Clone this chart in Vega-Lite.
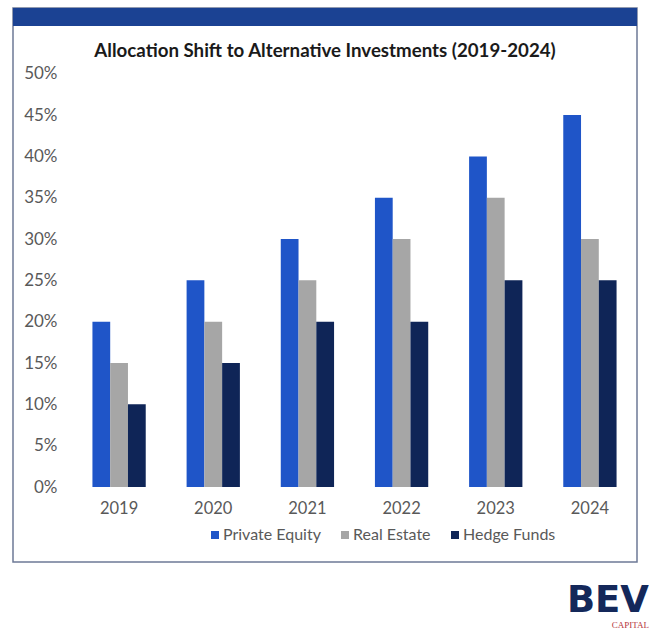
{
  "$schema": "https://vega.github.io/schema/vega-lite/v6.json",
  "background": "white",
  "padding": {"left": 12, "top": 7, "right": 0, "bottom": 0},
  "title": {
    "text": "BEV",
    "subtitle": "CAPITAL",
    "orient": "bottom",
    "anchor": "end",
    "frame": "group",
    "offset": 20,
    "dx": 12,
    "font": "DejaVu Sans",
    "fontSize": 37,
    "fontWeight": "bold",
    "color": "#14285a",
    "subtitleFont": "Liberation Serif",
    "subtitleFontSize": 9,
    "subtitleColor": "#b5343c",
    "subtitlePadding": 1
  },
  "vconcat": [
    {
      "width": 624,
      "height": 554,
      "title": {
        "text": "Allocation Shift to Alternative Investments (2019-2024)",
        "anchor": "middle",
        "frame": "group",
        "offset": -53,
        "font": "Lato",
        "fontSize": 18.7,
        "fontWeight": "bold",
        "color": "#1a1a1a"
      },
      "data": {
        "values": [
          {"year": "2019", "series": "Private Equity", "value": 0.20},
          {"year": "2019", "series": "Real Estate", "value": 0.15},
          {"year": "2019", "series": "Hedge Funds", "value": 0.10},
          {"year": "2020", "series": "Private Equity", "value": 0.25},
          {"year": "2020", "series": "Real Estate", "value": 0.20},
          {"year": "2020", "series": "Hedge Funds", "value": 0.15},
          {"year": "2021", "series": "Private Equity", "value": 0.30},
          {"year": "2021", "series": "Real Estate", "value": 0.25},
          {"year": "2021", "series": "Hedge Funds", "value": 0.20},
          {"year": "2022", "series": "Private Equity", "value": 0.35},
          {"year": "2022", "series": "Real Estate", "value": 0.30},
          {"year": "2022", "series": "Hedge Funds", "value": 0.20},
          {"year": "2023", "series": "Private Equity", "value": 0.40},
          {"year": "2023", "series": "Real Estate", "value": 0.35},
          {"year": "2023", "series": "Hedge Funds", "value": 0.25},
          {"year": "2024", "series": "Private Equity", "value": 0.45},
          {"year": "2024", "series": "Real Estate", "value": 0.30},
          {"year": "2024", "series": "Hedge Funds", "value": 0.25}
        ]
      },
      "layer": [
        {
          "mark": {"type": "rect", "color": "#1b4293"},
          "encoding": {
            "y": {"datum": 0.5795},
            "y2": {"datum": 0.5577}
          }
        },
        {
          "mark": {"type": "bar"},
          "encoding": {
            "x": {
              "field": "year",
              "type": "nominal",
              "scale": {"range": [59, 624], "paddingInner": 0.434, "paddingOuter": 0.217},
              "axis": {
                "orient": "bottom",
                "offset": -75,
                "domain": false,
                "ticks": false,
                "grid": false,
                "labelAngle": 0,
                "labelPadding": 13,
                "labelFontSize": 16.5,
                "labelColor": "#595959",
                "title": null
              }
            },
            "xOffset": {
              "field": "series",
              "type": "nominal",
              "sort": ["Private Equity", "Real Estate", "Hedge Funds"],
              "scale": {"paddingInner": 0, "paddingOuter": 0}
            },
            "y": {
              "field": "value",
              "type": "quantitative",
              "scale": {"domain": [-0.0907, 0.5795], "nice": false, "zero": false},
              "axis": {
                "values": [0, 0.05, 0.1, 0.15, 0.2, 0.25, 0.3, 0.35, 0.4, 0.45, 0.5],
                "format": ".0%",
                "offset": -59,
                "domain": false,
                "ticks": false,
                "tickSize": 0,
                "labelPadding": 15,
                "labelFontSize": 17,
                "labelColor": "#595959",
                "gridColor": "#dedede",
                "title": null
              }
            },
            "color": {
              "field": "series",
              "type": "nominal",
              "sort": ["Private Equity", "Real Estate", "Hedge Funds"],
              "scale": {
                "domain": ["Private Equity", "Real Estate", "Hedge Funds"],
                "range": ["#1f55c8", "#a6a6a6", "#0f2557"]
              },
              "legend": {
                "orient": "none",
                "legendX": 194,
                "legendY": 519,
                "direction": "horizontal",
                "title": null,
                "symbolType": "square",
                "symbolSize": 64,
                "symbolStrokeWidth": 0,
                "labelFontSize": 16,
                "labelColor": "#595959",
                "labelOffset": 0,
                "columnPadding": 16,
                "padding": 0
              }
            }
          }
        }
      ]
    }
  ],
  "config": {
    "font": "Lato",
    "view": {"stroke": "#6d7a96", "strokeWidth": 1.5}
  }
}
